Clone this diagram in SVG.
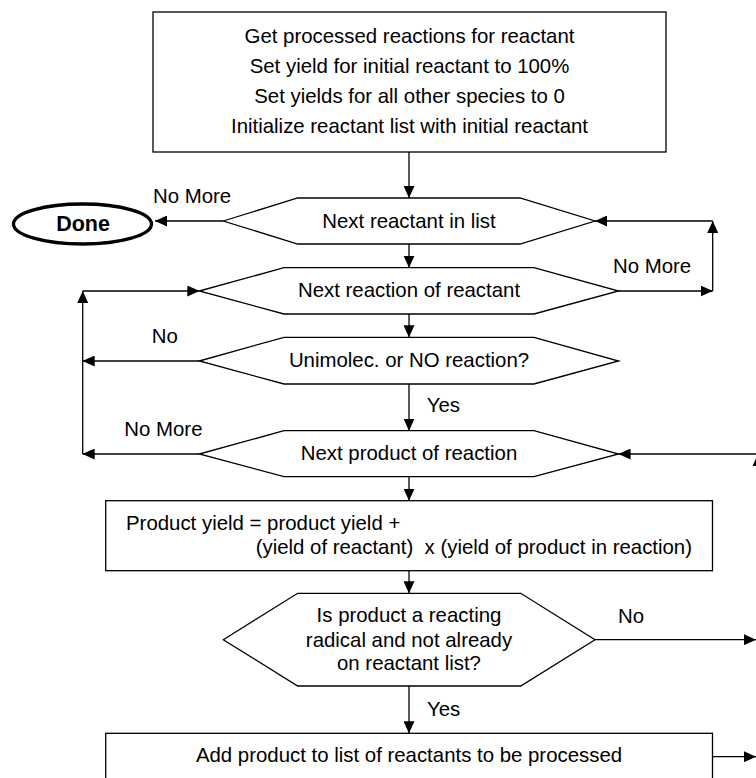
<svg xmlns="http://www.w3.org/2000/svg" width="756" height="778" viewBox="0 0 756 778">
  <style>
    .shape { fill: #ffffff; stroke: #000000; stroke-width: 1.3; }
    .term { fill: #ffffff; stroke: #000000; stroke-width: 3.3; }
    .t { font-family: "Liberation Sans", Arial, Helvetica, sans-serif; font-size: 20.4px; fill: #000000; }
    .c { text-anchor: middle; }
    .b { font-weight: bold; font-size: 21.5px; }
    .conn line, .conn polyline { stroke: #000000; stroke-width: 1.3; fill: none; marker-end: url(#ah); }
  </style>
  <defs>
    <marker id="ah" markerUnits="userSpaceOnUse" markerWidth="12" markerHeight="11" refX="12" refY="5.5" orient="auto">
      <path d="M0,0 L12,5.5 L0,11 Z" fill="#000000"/>
    </marker>
  </defs>
  <rect width="756" height="778" fill="#ffffff"/>

  <g id="init">
    <rect class="shape" x="153" y="12" width="513" height="140"/>
    <text class="t c" x="409.5" y="42.5">Get processed reactions for reactant</text>
    <text class="t c" x="409.5" y="72.8">Set yield for initial reactant to 100%</text>
    <text class="t c" x="409.5" y="103">Set yields for all other species to 0</text>
    <text class="t c" x="409.5" y="133.3">Initialize reactant list with initial reactant</text>
  </g>

  <g id="done">
    <ellipse class="term" cx="82.5" cy="224" rx="69" ry="20"/>
    <text class="t c b" x="83" y="231">Done</text>
  </g>

  <g id="next-reactant">
    <polygon class="shape" points="223.3,221 297.7,198 520,198 595,221 520,244 297.7,244"/>
    <text class="t c" x="409" y="227.7">Next reactant in list</text>
  </g>

  <g id="next-reaction">
    <polygon class="shape" points="199.3,291 284,267.7 534,267.7 618.6,291 534,314 284,314"/>
    <text class="t c" x="409" y="296.7">Next reaction of reactant</text>
  </g>

  <g id="unimolec">
    <polygon class="shape" points="199.3,361 284,337.3 534,337.3 618.6,361 534,384 284,384"/>
    <text class="t c" x="409" y="366.7">Unimolec. or NO reaction?</text>
  </g>

  <g id="next-product">
    <polygon class="shape" points="199.3,454 284,430.7 534,430.7 618.6,454 534,476.7 284,476.7"/>
    <text class="t c" x="409" y="460">Next product of reaction</text>
  </g>

  <g id="product-yield">
    <rect class="shape" x="105.7" y="500.7" width="606.8" height="70"/>
    <text class="t" x="126" y="530">Product yield = product yield +</text>
    <text class="t" x="692" y="554" text-anchor="end" xml:space="preserve">(yield of reactant)  x (yield of product in reaction)</text>
  </g>

  <g id="is-radical">
    <polygon class="shape" points="223.3,639.7 297.7,593.3 520.7,593.3 595,639.7 520.7,686 297.7,686"/>
    <text class="t c" x="409" y="621.7">Is product a reacting</text>
    <text class="t c" x="409" y="646.7">radical and not already</text>
    <text class="t c" x="409" y="670">on reactant list?</text>
  </g>

  <g id="add-product">
    <rect class="shape" x="105.7" y="733.3" width="606.8" height="80"/>
    <text class="t c" x="409" y="762">Add product to list of reactants to be processed</text>
  </g>

  <g id="connectors" class="conn">
    <line x1="409" y1="152" x2="409" y2="198"/>
    <line x1="223.3" y1="221" x2="155" y2="221"/>
    <line x1="409" y1="244" x2="409" y2="267.7"/>
    <line x1="618.6" y1="291" x2="712.7" y2="291"/>
    <line x1="712.7" y1="291" x2="712.7" y2="221"/>
    <line x1="712.7" y1="221" x2="595" y2="221"/>
    <line x1="409" y1="314" x2="409" y2="337.3"/>
    <line x1="199.3" y1="361" x2="82.7" y2="361"/>
    <line x1="409" y1="384" x2="409" y2="430.7"/>
    <line x1="199.3" y1="454" x2="82.7" y2="454"/>
    <line x1="82.7" y1="454" x2="82.7" y2="291"/>
    <line x1="82.7" y1="291" x2="199.3" y2="291"/>
    <line x1="758" y1="540" x2="758" y2="454"/>
    <line x1="758" y1="454" x2="618.6" y2="454"/>
    <line x1="409" y1="476.7" x2="409" y2="500.7"/>
    <line x1="409" y1="570.7" x2="409" y2="593.3"/>
    <line x1="595" y1="639.7" x2="756" y2="639.7"/>
    <line x1="409" y1="686" x2="409" y2="733.3"/>
    <line x1="712.5" y1="756.7" x2="756" y2="756.7"/>
    <g id="edge-labels">
      <text class="t" x="153" y="203.3">No More</text>
      <text class="t" x="613" y="272.7">No More</text>
      <text class="t" x="151.7" y="343.3">No</text>
      <text class="t" x="426.7" y="411.7">Yes</text>
      <text class="t" x="124.3" y="436">No More</text>
      <text class="t" x="618" y="623">No</text>
      <text class="t" x="427" y="716">Yes</text>
    </g>
  </g>
</svg>
